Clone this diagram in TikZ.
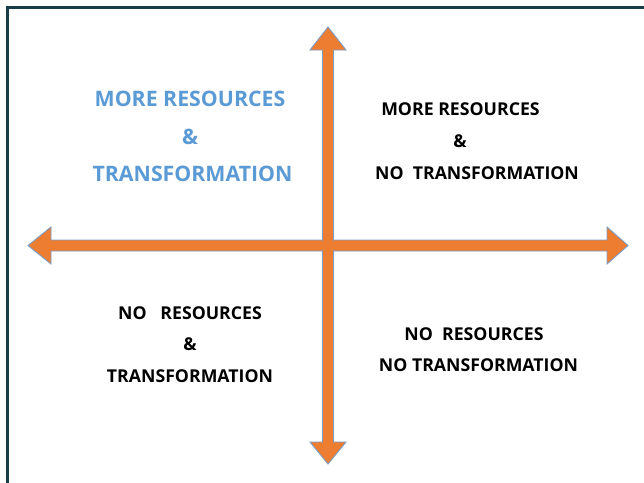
\documentclass[tikz,border=0pt]{standalone}
\usepackage{fontspec}
\setmainfont{Open Sans}
\definecolor{framecol}{HTML}{173F45}
\definecolor{arrowfill}{HTML}{ED7D31}
\definecolor{arrowedge}{HTML}{7C9CC4}
\definecolor{bluetext}{HTML}{5B9BD5}
\begin{document}
\begin{tikzpicture}[x=1pt,y=-1pt,
  bigarrow/.style={fill=arrowfill,draw=arrowedge,line width=0.9pt,line join=miter},
  bluelabel/.style={text=bluetext,font=\bfseries\fontsize{21.3}{25}\selectfont,inner sep=0pt,anchor=center},
  blacklabel/.style={text=black,font=\bfseries\fontsize{17.7}{21}\selectfont,inner sep=0pt,anchor=center}]
\useasboundingbox (0,0) rectangle (644,482);
\fill[white] (0,0) rectangle (644,482);
% outer frame, running past the right and bottom edges
\draw[framecol,line width=3pt] (7.5,490) -- (7.5,7.5) -- (660,7.5);
% horizontal double arrow
\draw[bigarrow] (28,245.5) -- (51,227) -- (51,240) -- (607,240) -- (607,227) -- (628,245.5)
  -- (607,264) -- (607,251) -- (51,251) -- (51,264) -- cycle;
% vertical double arrow
\draw[bigarrow] (328,27) -- (346,50) -- (333.5,50) -- (333.5,442) -- (346,442) -- (328,464)
  -- (310,442) -- (322.5,442) -- (322.5,50) -- (310,50) -- cycle;
% clean crossing
\fill[arrowfill] (318,240.6) rectangle (338,250.4);
\fill[arrowfill] (323.1,236) rectangle (332.9,255);
% quadrant labels
\node[bluelabel] (q1a) at (190,99) {MORE RESOURCES};
\node[bluelabel] (q1b) at (190,137) {\&};
\node[bluelabel] (q1c) at (192.5,174) {TRANSFORMATION};
\node[blacklabel] (q2a) at (460.5,109) {MORE RESOURCES};
\node[blacklabel] (q2b) at (460,141) {\&};
\node[blacklabel] (q2c) at (477,173) {NO\ \ TRANSFORMATION};
\node[blacklabel] (q3a) at (190,313) {NO\ \ \ RESOURCES};
\node[blacklabel] (q3b) at (190,344) {\&};
\node[blacklabel] (q3c) at (190,376) {TRANSFORMATION};
\node[blacklabel] (q4a) at (474,334) {NO\ \ RESOURCES};
\node[blacklabel] (q4b) at (478.5,365) {NO TRANSFORMATION};
\end{tikzpicture}
\end{document}
